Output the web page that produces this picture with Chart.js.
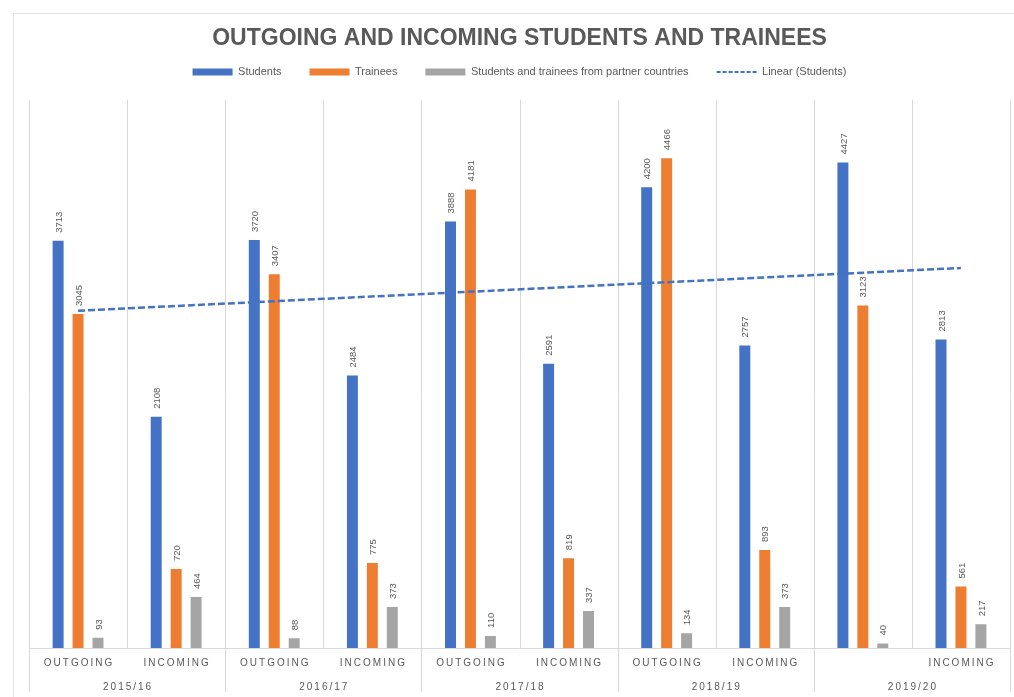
<!DOCTYPE html>
<html><head><meta charset="utf-8">
<script src="https://cdn.jsdelivr.net/npm/chart.js@4.4.0/dist/chart.umd.min.js"></script>
<style>
html,body{margin:0;padding:0;background:#fff;}
#wrap{position:relative;width:1014px;height:697px;overflow:hidden;}
#frame{position:absolute;left:13px;top:13px;width:1100px;height:800px;border:1px solid #e3e3e3;box-sizing:border-box;}
canvas{position:absolute;left:0;top:0;}
</style></head><body>
<div id="wrap"><div id="frame"></div><canvas id="c" width="1014" height="697"></canvas></div>
<script>
const categories = ['OUTGOING','INCOMING','OUTGOING','INCOMING','OUTGOING','INCOMING','OUTGOING','INCOMING','OUTGOING','INCOMING'];
const tickLabels = ['OUTGOING','INCOMING','OUTGOING','INCOMING','OUTGOING','INCOMING','OUTGOING','INCOMING','','INCOMING'];
const years = ['2015/16','2016/17','2017/18','2018/19','2019/20'];
const students = [3713,2108,3720,2484,3888,2591,4200,2757,4427,2813];
const trainees = [3045,720,3407,775,4181,819,4466,893,3123,561];
const partner = [93,464,88,373,110,337,134,373,40,217];
const trendStudents = [3075,null,null,null,null,null,null,null,null,3465];

const TEXT = '#595959';
const GRID = '#d9d9d9';
const FONT = 'Liberation Sans';

const decor = {
  id: 'decor',
  beforeDatasetsDraw(chart) {
    const {ctx, chartArea: a, scales: {x}} = chart;
    const n = categories.length;
    const step = x.getPixelForValue(1) - x.getPixelForValue(0);
    ctx.save();
    ctx.strokeStyle = GRID; ctx.lineWidth = 1;
    for (let i = 0; i <= n; i++) {
      const px = Math.round(x.getPixelForValue(0) - step / 2 + step * i) + 0.5;
      ctx.beginPath();
      ctx.moveTo(px, a.top);
      ctx.lineTo(px, i % 2 === 0 ? a.bottom + 44 : a.bottom);
      ctx.stroke();
    }
    ctx.beginPath();
    ctx.moveTo(a.left, Math.round(a.bottom) + 0.5);
    ctx.lineTo(a.right, Math.round(a.bottom) + 0.5);
    ctx.stroke();
    ctx.fillStyle = TEXT;
    ctx.font = '10px "' + FONT + '"';
    ctx.textAlign = 'center'; ctx.textBaseline = 'middle';
    ctx.letterSpacing = '2px';
    tickLabels.forEach((t, i) => {
      ctx.fillText(t, x.getPixelForValue(i) + 1, a.bottom + 15);
    });
    years.forEach((y, g) => {
      const cx = (x.getPixelForValue(2 * g) + x.getPixelForValue(2 * g + 1)) / 2;
      ctx.fillText(y, cx + 1, a.bottom + 39);
    });
    ctx.restore();
  },
  afterDatasetsDraw(chart) {
    const {ctx} = chart;
    ctx.save();
    ctx.fillStyle = TEXT;
    ctx.font = '9.5px "' + FONT + '"';
    ctx.textAlign = 'left'; ctx.textBaseline = 'middle';
    for (let d = 0; d < 3; d++) {
      const meta = chart.getDatasetMeta(d);
      const vals = chart.data.datasets[d].data;
      meta.data.forEach((bar, i) => {
        ctx.save();
        ctx.translate(bar.x + 1, bar.y - 8);
        ctx.rotate(-Math.PI / 2);
        ctx.fillText(String(vals[i]), 0, 0);
        ctx.restore();
      });
    }
    ctx.restore();
  }
};

new Chart(document.getElementById('c'), {
  type: 'bar',
  data: {
    labels: categories,
    datasets: [
      {label: 'Students', data: students, backgroundColor: '#4472C4', xAxisID: 'x', order: 1},
      {label: 'Trainees', data: trainees, backgroundColor: '#ED7D31', xAxisID: 'x', order: 1},
      {label: 'Students and trainees from partner countries', data: partner, backgroundColor: '#A5A5A5', xAxisID: 'x', order: 1},
      {label: 'Linear (Students)', type: 'line', data: trendStudents, borderColor: '#4472C4', backgroundColor: '#4472C4',
       borderWidth: 2.5, borderDash: [7, 3], pointRadius: 0, spanGaps: true, tension: 0, xAxisID: 'x', order: 0}
    ]
  },
  options: {
    responsive: false,
    animation: false,
    layout: {padding: {left: 29, right: 4, top: 0, bottom: 49}},
    datasets: {bar: {barPercentage: 0.55, categoryPercentage: 0.61}},
    scales: {
      x: {display: false},
      xTop: {type: 'category', position: 'top', display: true, grid: {display: false}, border: {display: false},
             ticks: {display: false}, afterFit(s) { s.height = 12; }},
      y: {display: false, min: 0, max: 5000}
    },
    plugins: {
      tooltip: {enabled: false},
      title: {display: true, text: 'OUTGOING AND INCOMING STUDENTS AND TRAINEES', color: TEXT,
              font: {family: FONT, size: 23, weight: 'bold'}, padding: {top: 25, bottom: -14}},
      legend: {
        display: true,
        labels: {
          color: TEXT, font: {family: FONT, size: 11}, padding: 28,
          usePointStyle: true, pointStyleWidth: 40, boxHeight: 7, boxWidth: 40,
          sort: (a, b) => a.datasetIndex - b.datasetIndex,
          generateLabels(chart) {
            const items = Chart.defaults.plugins.legend.labels.generateLabels(chart);
            items.forEach(it => {
              const ds = chart.data.datasets[it.datasetIndex];
              if (ds.type === 'line') {
                it.pointStyle = 'line'; it.strokeStyle = ds.borderColor; it.lineWidth = 2; it.lineDash = [4, 2];
                it.fillStyle = ds.borderColor;
              } else {
                it.pointStyle = 'rect'; it.lineWidth = 0; it.strokeStyle = ds.backgroundColor; it.fillStyle = ds.backgroundColor;
              }
            });
            return items;
          }
        }
      }
    }
  },
  plugins: [decor]
});
</script>
</body></html>
